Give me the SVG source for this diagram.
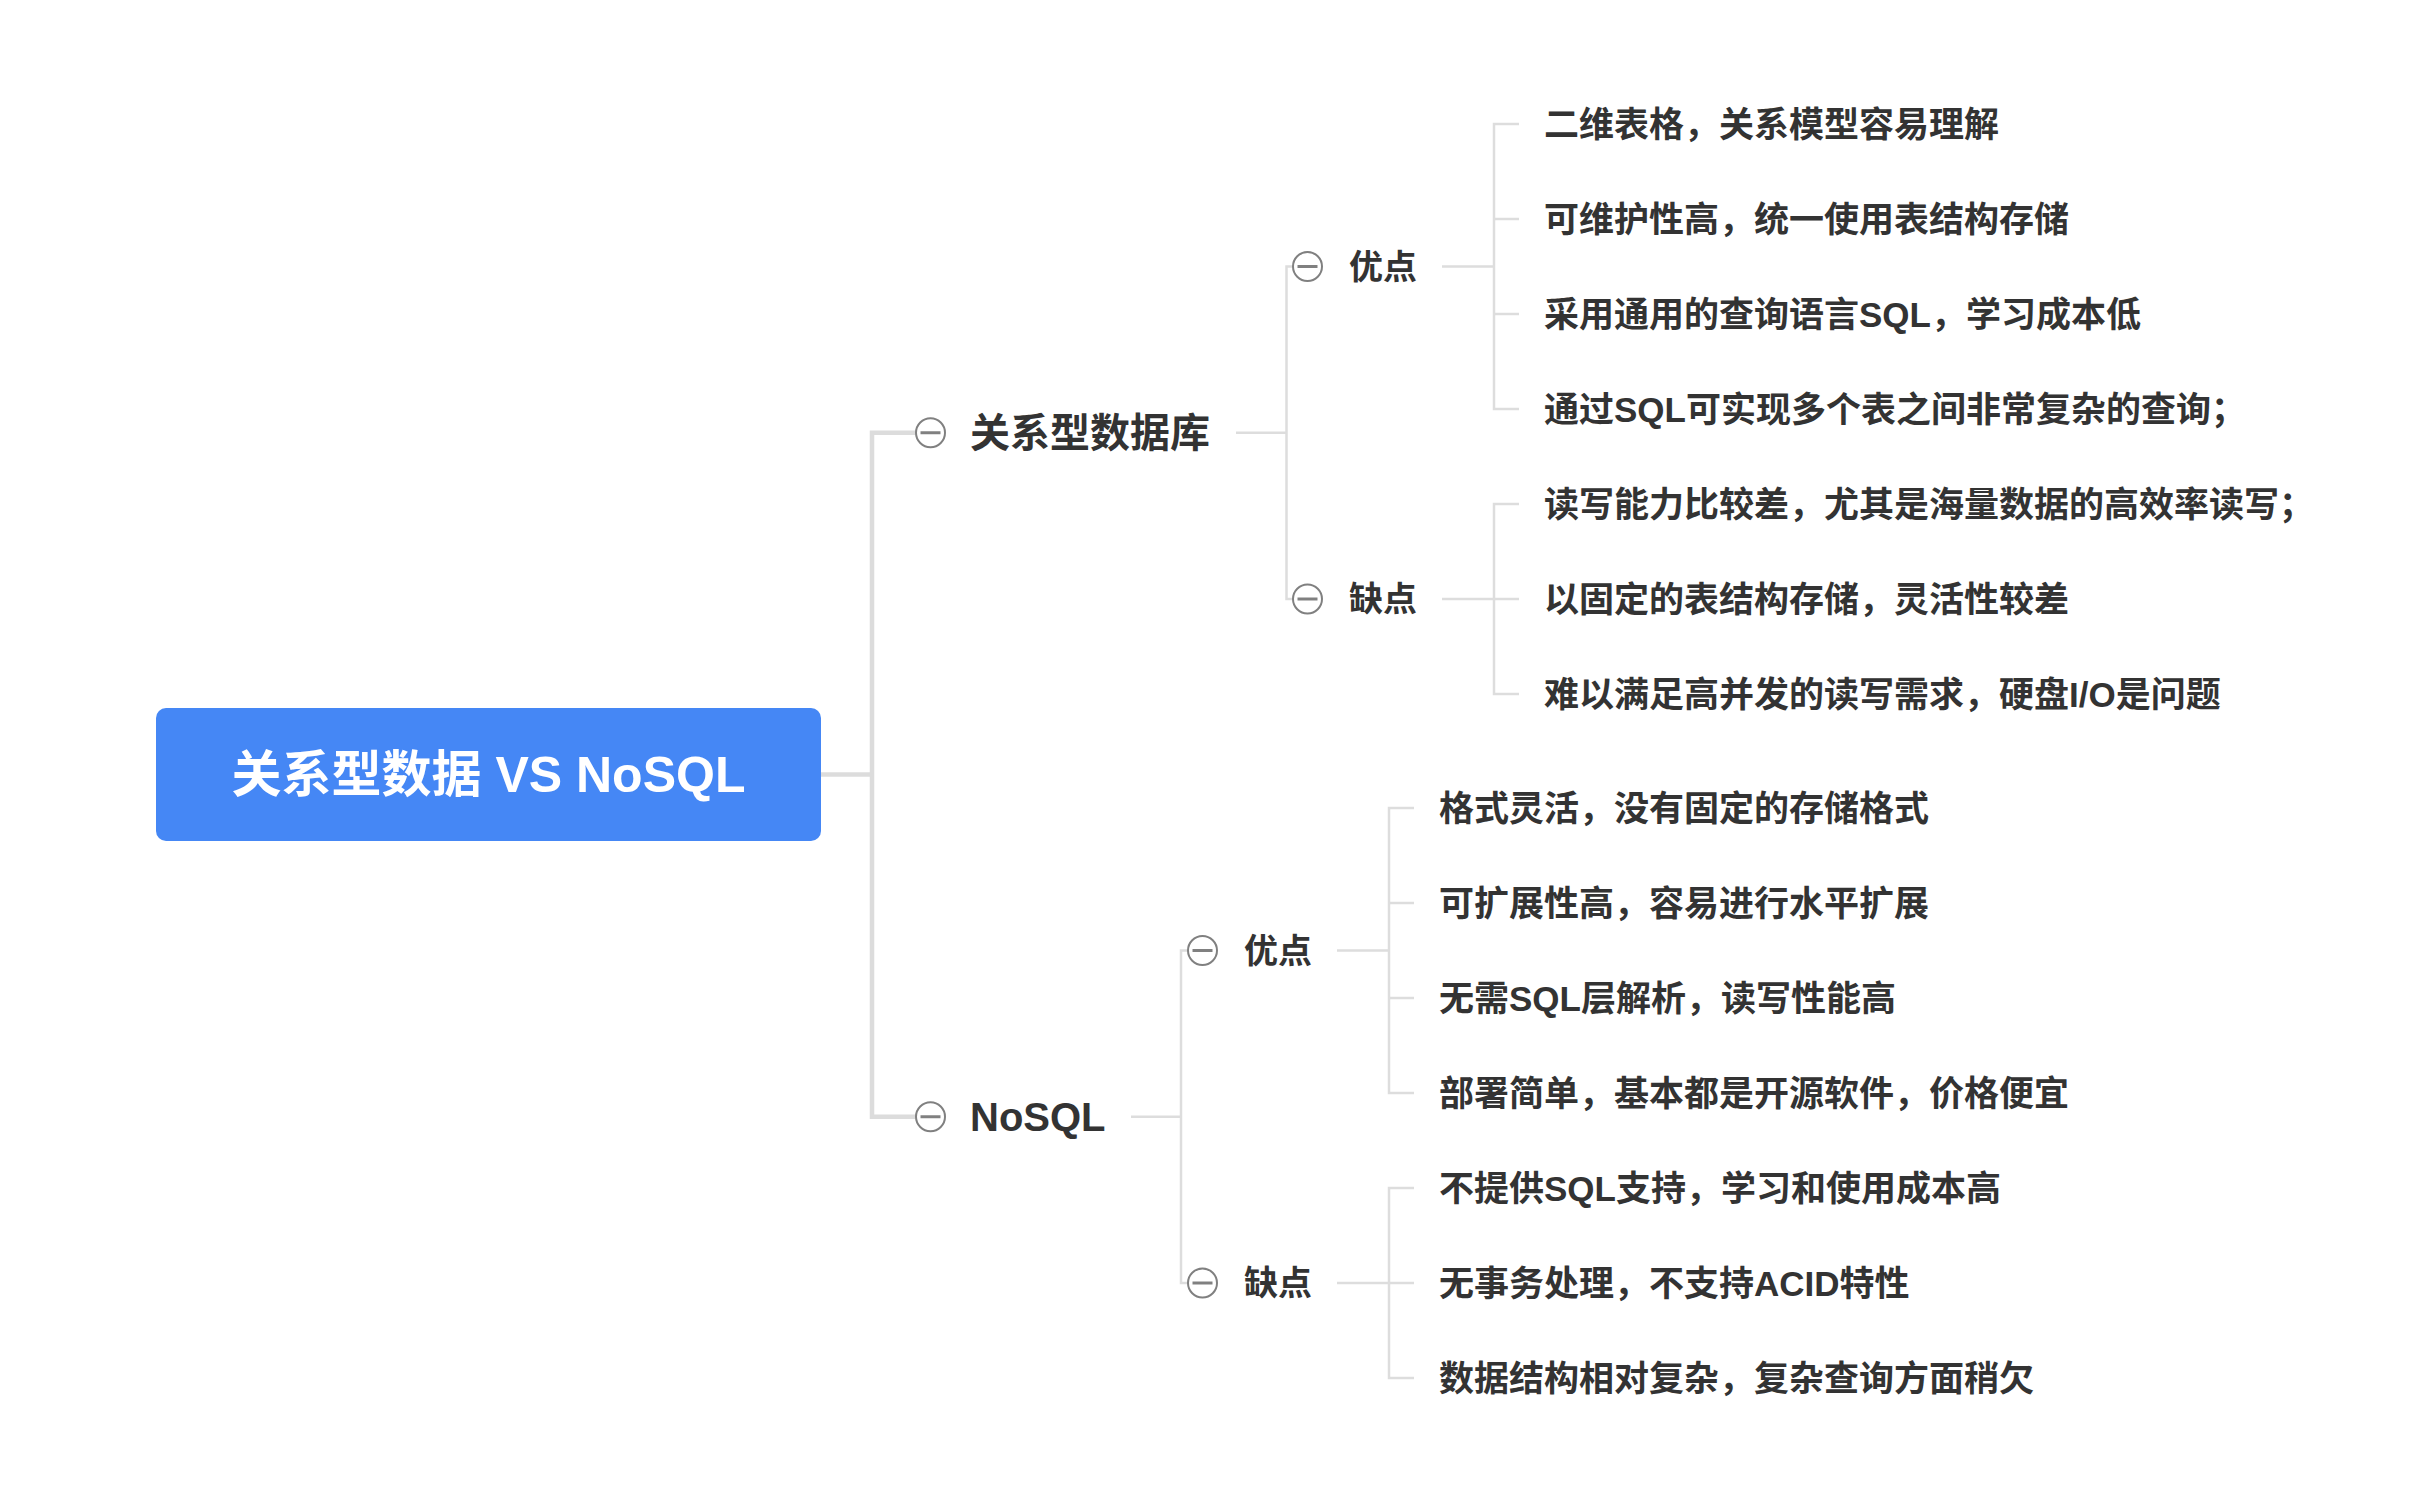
<svg xmlns="http://www.w3.org/2000/svg" width="2423" height="1506" viewBox="0 0 2423 1506">
<style>
  text { font-family: "Liberation Sans", "Noto Sans CJK SC", sans-serif; font-weight: bold; dominant-baseline: central; }
  .root-t { fill: #ffffff; font-size: 50px; }
  .l1 { fill: #333333; font-size: 40px; }
  .l2 { fill: #333333; font-size: 34px; }
  .it { fill: #333333; font-size: 35px; }
  .thick { fill: none; stroke: #dcdcdc; stroke-width: 4.5; }
  .thin { fill: none; stroke: #dddddd; stroke-width: 2.5; }
  .tog circle { fill: #ffffff; stroke: #808080; stroke-width: 2; }
  .tog line { stroke: #808080; stroke-width: 3; }
</style>
<defs>
  <g id="toggle" class="tog">
    <circle cx="0" cy="0" r="14.5"/>
    <line x1="-10" y1="0" x2="10" y2="0"/>
  </g>
</defs>
<rect width="2423" height="1506" fill="#ffffff"/>

<g id="connectors">
  <path class="thick" d="M821 774.5 H872"/>
  <path class="thick" d="M916 432.75 H872 V1116.75 H916"/>
  <path class="thin" d="M1236 432.75 H1286.5"/>
  <path class="thin" d="M1293 266.5 H1286.5 V599 H1293"/>
  <path class="thin" d="M1442 266.5 H1494"/>
  <path class="thin" d="M1519 124 H1494 V409 H1519 M1494 219 H1519 M1494 314 H1519"/>
  <path class="thin" d="M1442 599 H1494"/>
  <path class="thin" d="M1519 504 H1494 V694 H1519 M1494 599 H1519"/>
  <path class="thin" d="M1131 1116.75 H1181"/>
  <path class="thin" d="M1188 950.5 H1181 V1283 H1188"/>
  <path class="thin" d="M1337 950.5 H1389"/>
  <path class="thin" d="M1414 808 H1389 V1093 H1414 M1389 903 H1414 M1389 998 H1414"/>
  <path class="thin" d="M1337 1283 H1389"/>
  <path class="thin" d="M1414 1188 H1389 V1378 H1414 M1389 1283 H1414"/>
</g>

<g id="root">
  <rect x="156" y="708" width="665" height="133" rx="10" fill="#4587f5"/>
  <text class="root-t" x="488.5" y="774.5" text-anchor="middle">关系型数据 VS NoSQL</text>
</g>

<g id="relational">
  <use href="#toggle" x="930.5" y="432.75"/>
  <text class="l1" x="970" y="432.75">关系型数据库</text>
</g>
<g id="rel-pros">
  <use href="#toggle" x="1307.5" y="266.5"/>
  <text class="l2" x="1349" y="266.5">优点</text>
</g>
<g id="rel-pro-1"><text class="it" x="1544" y="124">二维表格，关系模型容易理解</text></g>
<g id="rel-pro-2"><text class="it" x="1544" y="219">可维护性高，统一使用表结构存储</text></g>
<g id="rel-pro-3"><text class="it" x="1544" y="314">采用通用的查询语言SQL，学习成本低</text></g>
<g id="rel-pro-4"><text class="it" x="1544" y="409">通过SQL可实现多个表之间非常复杂的查询；</text></g>
<g id="rel-cons">
  <use href="#toggle" x="1307.5" y="599"/>
  <text class="l2" x="1349" y="599">缺点</text>
</g>
<g id="rel-con-1"><text class="it" x="1544" y="504">读写能力比较差，尤其是海量数据的高效率读写；</text></g>
<g id="rel-con-2"><text class="it" x="1544" y="599">以固定的表结构存储，灵活性较差</text></g>
<g id="rel-con-3"><text class="it" x="1544" y="694">难以满足高并发的读写需求，硬盘I/O是问题</text></g>

<g id="nosql">
  <use href="#toggle" x="930.5" y="1116.75"/>
  <text class="l1" x="970" y="1116.75">NoSQL</text>
</g>
<g id="nosql-pros">
  <use href="#toggle" x="1202.5" y="950.5"/>
  <text class="l2" x="1244" y="950.5">优点</text>
</g>
<g id="nosql-pro-1"><text class="it" x="1439" y="808">格式灵活，没有固定的存储格式</text></g>
<g id="nosql-pro-2"><text class="it" x="1439" y="903">可扩展性高，容易进行水平扩展</text></g>
<g id="nosql-pro-3"><text class="it" x="1439" y="998">无需SQL层解析，读写性能高</text></g>
<g id="nosql-pro-4"><text class="it" x="1439" y="1093">部署简单，基本都是开源软件，价格便宜</text></g>
<g id="nosql-cons">
  <use href="#toggle" x="1202.5" y="1283"/>
  <text class="l2" x="1244" y="1283">缺点</text>
</g>
<g id="nosql-con-1"><text class="it" x="1439" y="1188">不提供SQL支持，学习和使用成本高</text></g>
<g id="nosql-con-2"><text class="it" x="1439" y="1283">无事务处理，不支持ACID特性</text></g>
<g id="nosql-con-3"><text class="it" x="1439" y="1378">数据结构相对复杂，复杂查询方面稍欠</text></g>
</svg>
